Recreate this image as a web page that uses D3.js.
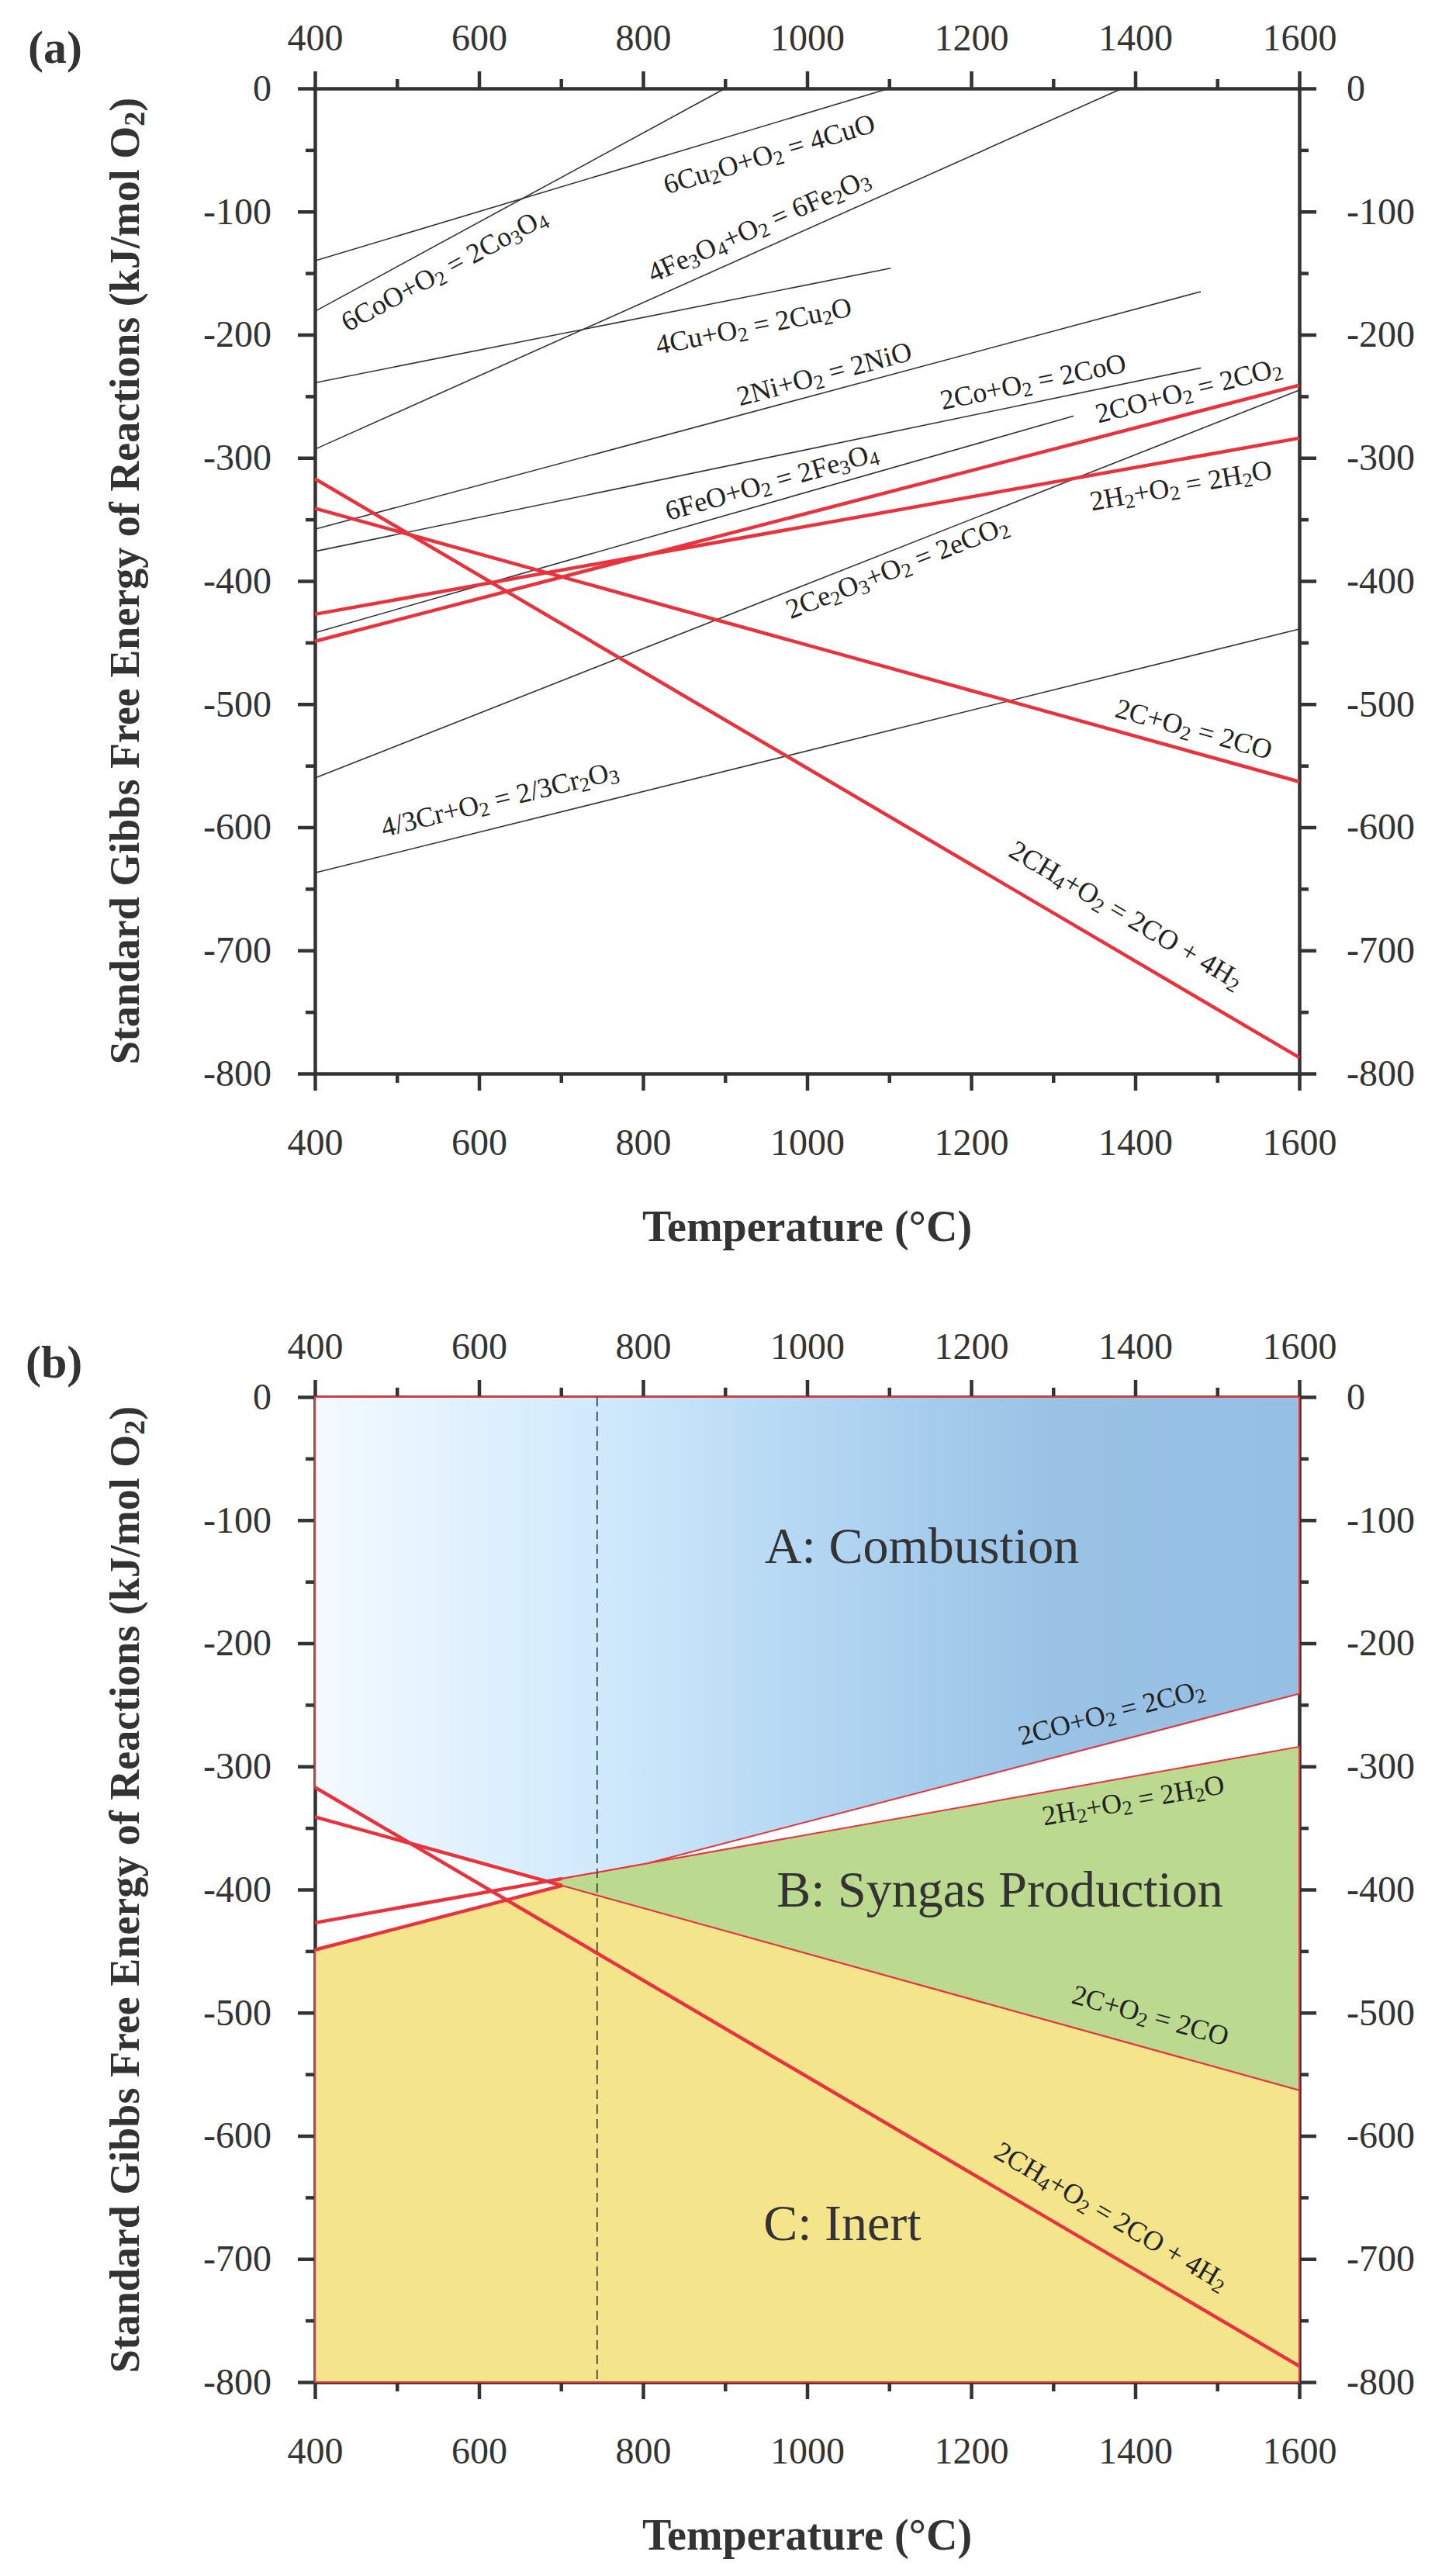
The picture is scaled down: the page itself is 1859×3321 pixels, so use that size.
<!DOCTYPE html>
<html>
<head>
<meta charset="utf-8">
<script src="https://d3js.org/d3.v7.min.js"></script>
<style>
  body { margin: 0; background: #fff; }
  text { font-family: "Liberation Serif", "Times New Roman", serif; }
</style>
</head>
<body>
<div id="chart"></div>
<script>
var width = 1859, height = 3321;

// axis ticks
var tempTicks  = [400, 600, 800, 1000, 1200, 1400, 1600];
var tempMinor  = [500, 700, 900, 1100, 1300, 1500];
var gibbsTicks = [0, -100, -200, -300, -400, -500, -600, -700, -800];
var gibbsMinor = [-50, -150, -250, -350, -450, -550, -650, -750];

// metal / oxide reactions, panel (a): [T, dG] at both ends
var oxideNames = ["6Cu2O+O2 = 4CuO", "6CoO+O2 = 2Co3O4", "4Cu+O2 = 2Cu2O", "4Fe3O4+O2 = 6Fe2O3",
                  "2Ni+O2 = 2NiO", "2Co+O2 = 2CoO", "6FeO+O2 = 2Fe3O4", "2Ce2O3+O2 = 2eCO2",
                  "4/3Cr+O2 = 2/3Cr2O3"];
var oxideStart = [[400, -140], [400, -181], [400, -239], [400, -293],
                  [400, -358], [400, -376], [400, -442], [400, -560], [400, -637]];
var oxideEnd   = [[1100, 0], [900, 0], [1102, -146], [1384, 0],
                  [1480, -165], [1480, -227], [1325, -266], [1600, -245], [1600, -439]];
// where each oxide label starts (baseline, data units)
var oxideLabelAt = [[829, -86], [440, -198], [818, -216], [812, -158],
                    [918, -258], [1165, -261], [831, -351], [980, -431], [484, -608]];

// fuel reactions (red)
var fuelNames = ["2CO+O2 = 2CO2", "2H2+O2 = 2H2O", "2C+O2 = 2CO", "2CH4+O2 = 2CO + 4H2"];
var fuelStart = [[400, -449], [400, -427], [400, -341], [400, -317]];
var fuelEnd   = [[1600, -241], [1600, -284], [1600, -563], [1600, -787]];
var fuelLabelA = [[1355, -272], [1347, -343], [1374, -510], [1244, -623]];
var fuelLabelB = [[1261, -283], [1289, -348], [1321, -492], [1226, -617]];

// regions of panel (b)
var regionNames = ["A: Combustion", "B: Syngas Production", "C: Inert"];
var regionLabelAt = [[1140, -135], [1235, -414], [1043, -685]];
var syngasOnset = 744;

var CO = 0, H2 = 1, C = 2, CH4 = 3;
var red = "#e8323c", ink = "#333";

var svg = d3.select("#chart").append("svg")
  .attr("width", width).attr("height", height)
  .style("background", "#fff");

var x = d3.scaleLinear().domain([400, 1600]).range([406, 1675]);
var yA = d3.scaleLinear().domain([0, -800]).range([114, 1384]);
var yB = d3.scaleLinear().domain([0, -800]).range([1801, 3071]);

function val(s, e, t) {
  return s[1] + (e[1] - s[1]) * (t - s[0]) / (e[0] - s[0]);
}
function fuel(i, t) { return val(fuelStart[i], fuelEnd[i], t); }
function cross(i, j) {
  var a = fuelStart, b = fuelEnd;
  var si = (b[i][1] - a[i][1]) / 1200, sj = (b[j][1] - a[j][1]) / 1200;
  return 400 + (a[j][1] - a[i][1]) / (si - sj);
}

function styleAxis(g, show) {
  g.attr("color", ink);
  g.selectAll("path, line").attr("stroke-width", 4.5);
  g.selectAll("text").attr("font-size", 48).attr("font-family", '"Liberation Serif", serif');
  if (!show) g.select(".domain").remove();
}

function axes(y) {
  var y0 = y.range()[0], y1 = y.range()[1];
  var x0 = x.range()[0], x1 = x.range()[1];
  var fmt = function(d) { return String(d); };
  var g = svg.append("g");
  [[d3.axisTop, y0, -1], [d3.axisBottom, y1, 1]].forEach(function(p) {
    var pad = p[2] < 0 ? 27 : 49;
    g.append("g").attr("transform", "translate(0," + p[1] + ")")
      .call(p[0](x).tickValues(tempMinor).tickSize(12).tickSizeOuter(0).tickFormat(""))
      .call(styleAxis, false);
    g.append("g").attr("transform", "translate(0," + p[1] + ")")
      .call(p[0](x).tickValues(tempTicks).tickSize(22).tickSizeOuter(0).tickPadding(pad).tickFormat(fmt))
      .call(styleAxis, true);
  });
  [[d3.axisLeft, x0, 34], [d3.axisRight, x1, 39]].forEach(function(p) {
    g.append("g").attr("transform", "translate(" + p[1] + ",0)")
      .call(p[0](y).tickValues(gibbsMinor).tickSize(12).tickSizeOuter(0).tickFormat(""))
      .call(styleAxis, false);
    g.append("g").attr("transform", "translate(" + p[1] + ",0)")
      .call(p[0](y).tickValues(gibbsTicks).tickSize(22).tickSizeOuter(0).tickPadding(p[2]).tickFormat(fmt))
      .call(styleAxis, true);
  });
  g.selectAll(".domain").attr("stroke-linecap", "square");

  // axis titles
  var yt = svg.append("text")
    .attr("transform", "translate(179," + ((y0 + y1) / 2) + ") rotate(-90)")
    .attr("text-anchor", "middle").attr("font-size", 54).attr("font-weight", "bold").attr("fill", ink)
    .text("Standard Gibbs Free Energy of Reactions (kJ/mol O");
  yt.append("tspan").attr("font-size", 38).attr("dy", 7).text("2");
  yt.append("tspan").attr("dy", -7).text(")");

  svg.append("text")
    .attr("x", (x0 + x1) / 2).attr("y", y1 + 216)
    .attr("text-anchor", "middle").attr("font-size", 56).attr("font-weight", "bold").attr("fill", ink)
    .text("Temperature (\u00B0C)");
}

// reaction text with chemical subscripts, rotated along its line
function rxnLabel(y, str, at, s, e) {
  var ang = Math.atan2(y(e[1]) - y(s[1]), x(e[0]) - x(s[0])) * 180 / Math.PI;
  var t = svg.append("text")
    .attr("transform", "translate(" + x(at[0]) + "," + y(at[1]) + ") rotate(" + ang + ")")
    .attr("font-size", 36).attr("fill", "#222");
  var parts = [];
  for (var i = 0; i < str.length; i++) {
    var ch = str[i];
    var sub = /[0-9]/.test(ch) && i > 0 && /[A-Za-z]/.test(str[i - 1]);
    if (parts.length && parts[parts.length - 1].sub === sub) parts[parts.length - 1].s += ch;
    else parts.push({ s: ch, sub: sub });
  }
  var low = false;
  parts.forEach(function(p) {
    var ts = t.append("tspan").text(p.s).style("white-space", "pre");
    if (p.sub) { ts.attr("font-size", 26).attr("dy", 5); low = true; }
    else if (low) { ts.attr("dy", -5); low = false; }
  });
}

function lineGen(y) {
  return d3.line().x(function(d) { return x(d[0]); }).y(function(d) { return y(d[1]); });
}

// ---------------- panel (a) ----------------
axes(yA);
var la = lineGen(yA);
svg.append("g").selectAll("path")
  .data(oxideNames.map(function(n, i) { return [oxideStart[i], oxideEnd[i]]; }))
  .join("path")
  .attr("d", la).attr("fill", "none").attr("stroke", ink).attr("stroke-width", 1.6);
svg.append("g").selectAll("path")
  .data(fuelNames.map(function(n, i) { return [fuelStart[i], fuelEnd[i]]; }))
  .join("path")
  .attr("d", la).attr("fill", "none").attr("stroke", red).attr("stroke-width", 4.5);
oxideNames.forEach(function(n, i) { rxnLabel(yA, n, oxideLabelAt[i], oxideStart[i], oxideEnd[i]); });
fuelNames.forEach(function(n, i) { rxnLabel(yA, n, fuelLabelA[i], fuelStart[i], fuelEnd[i]); });

svg.append("text").attr("x", 36).attr("y", 81)
  .attr("font-size", 60).attr("font-weight", "bold").attr("fill", ink).text("(a)");

// ---------------- panel (b) ----------------
axes(yB);

var breaks = [400, 1600];
for (var i = 0; i < 4; i++) for (var j = i + 1; j < 4; j++) {
  var tc = cross(i, j);
  if (tc > 400 && tc < 1600) breaks.push(tc);
}
breaks.sort(d3.ascending);

var defs = svg.append("defs");
var grad = defs.append("linearGradient").attr("id", "combGrad")
  .attr("gradientUnits", "userSpaceOnUse")
  .attr("x1", x(400)).attr("x2", x(1600)).attr("y1", 0).attr("y2", 0);
[[0, "#f4faff"], [0.287, "#d0eafc"], [0.5, "#b4d7f3"], [0.75, "#99c2e5"], [1, "#95bfe3"]]
  .forEach(function(s) { grad.append("stop").attr("offset", s[0]).attr("stop-color", s[1]); });

function top4(t) { return d3.max([0, 1, 2, 3], function(k) { return fuel(k, t); }); }

var tGreen = cross(C, H2);
var greenBreaks = breaks.filter(function(t) { return t > tGreen; });
greenBreaks.unshift(tGreen);

var inert = d3.area().x(function(t) { return x(t); })
  .y0(function(t) { return yB(Math.min(fuel(C, t), fuel(CO, t))); })
  .y1(yB(-800));
var syngas = d3.area().x(function(t) { return x(t); })
  .y0(function(t) { return yB(fuel(H2, t)); })
  .y1(function(t) { return yB(fuel(C, t)); });
var combustion = d3.area().x(function(t) { return x(t); })
  .y0(yB(0))
  .y1(function(t) { return yB(top4(t)); });

var rg = svg.append("g").attr("stroke", red).attr("stroke-width", 2).attr("stroke-linejoin", "miter");
rg.append("path").attr("d", inert(breaks) + "Z").attr("fill", "#f4e48c");
rg.append("path").attr("d", syngas(greenBreaks) + "Z").attr("fill", "#bbd98f");
rg.append("path").attr("d", combustion(breaks) + "Z").attr("fill", "url(#combGrad)");

svg.append("line")
  .attr("x1", x(syngasOnset)).attr("x2", x(syngasOnset))
  .attr("y1", yB(0)).attr("y2", yB(-800))
  .attr("stroke", ink).attr("stroke-width", 1.6).attr("stroke-dasharray", "12,7");

var lb = lineGen(yB);
var tCut = cross(C, CO);
svg.append("g").selectAll("path")
  .data(fuelNames.map(function(n, i) {
    var tEnd = i === CH4 ? 1600 : tCut;
    return [fuelStart[i], [tEnd, fuel(i, tEnd)]];
  }))
  .join("path")
  .attr("d", lb).attr("fill", "none").attr("stroke", red).attr("stroke-width", 4.5);

fuelNames.forEach(function(n, i) { rxnLabel(yB, n, fuelLabelB[i], fuelStart[i], fuelEnd[i]); });

regionNames.forEach(function(n, i) {
  svg.append("text")
    .attr("x", x(regionLabelAt[i][0])).attr("y", yB(regionLabelAt[i][1]))
    .attr("text-anchor", "middle").attr("font-size", 66).attr("fill", ink).text(n);
});

svg.append("text").attr("x", 33).attr("y", 1776)
  .attr("font-size", 60).attr("font-weight", "bold").attr("fill", ink).text("(b)");
</script>
</body>
</html>
